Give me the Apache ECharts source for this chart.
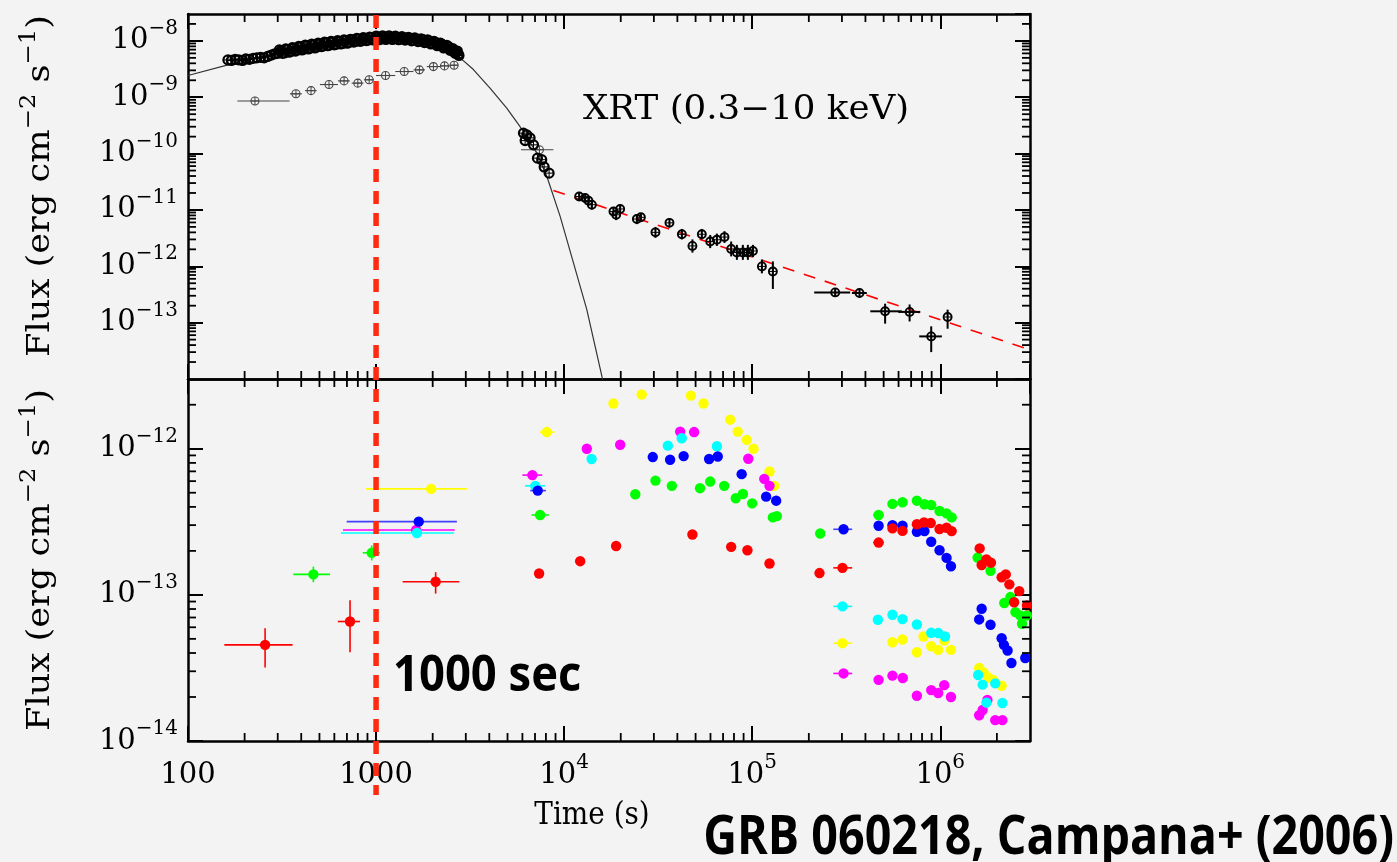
<!DOCTYPE html>
<html>
<head>
<meta charset="utf-8">
<title>GRB 060218 light curves</title>
<script src="https://cdn.jsdelivr.net/npm/echarts@6/dist/echarts.min.js"></script>
<style>
  html, body { margin: 0; padding: 0; background: #f3f3f3; }
  #chart { width: 1397px; height: 862px; }
</style>
</head>
<body>
<div id="chart"></div>
<script>
// ---- axis ranges -------------------------------------------------------
const T_MIN = 100, T_MAX = 3e6;
const TOP_F_MIN = 1e-14, TOP_F_MAX = 3e-8;
const BOT_F_MIN = 1e-14, BOT_F_MAX = 3e-12;
const markTime = 1000;

// ---- XRT 0.3-10 keV: early dense window-timing points [t, flux] --------
const xrtEarly = [
  [163,4.6e-9],[170,4.5e-9],[178,4.7e-9],[186,4.6e-9],[195,4.5e-9],[203,4.8e-9],[212,4.7e-9],
  [222,4.9e-9],[232,5.0e-9],[243,5.1e-9],[254,5.0e-9],[265,5.3e-9],[277,5.6e-9],[289,5.9e-9],
  [300,6.0e-9],[312,6.6e-9],[325,6.1e-9],[338,7.0e-9],[352,6.5e-9],[366,7.4e-9],[381,6.9e-9],
  [396,7.8e-9],[412,7.2e-9],[429,8.2e-9],[446,7.5e-9],[464,8.5e-9],[483,7.8e-9],[502,8.8e-9],
  [522,8.1e-9],[543,9.2e-9],[565,8.4e-9],[588,9.5e-9],[612,8.7e-9],[636,9.8e-9],[662,9.0e-9],
  [689,1.01e-8],[716,9.3e-9],[745,1.04e-8],[775,9.7e-9],[806,1.08e-8],[839,1.0e-8],[872,1.11e-8],
  [907,1.04e-8],[944,1.14e-8],[982,1.07e-8],[1021,1.17e-8],[1062,1.09e-8],[1105,1.17e-8],
  [1149,1.1e-8],[1195,1.17e-8],[1243,1.09e-8],[1293,1.16e-8],[1345,1.08e-8],[1399,1.14e-8],
  [1455,1.06e-8],[1514,1.12e-8],[1575,1.03e-8],[1638,1.09e-8],[1703,1.0e-8],[1772,1.05e-8],
  [1843,9.6e-9],[1917,1.0e-8],[1994,9.1e-9],[2074,9.4e-9],[2157,8.5e-9],[2244,8.7e-9],
  [2334,7.8e-9],[2428,7.9e-9],[2525,7.0e-9],[2600,6.8e-9],[2670,6.2e-9],[2740,5.8e-9],
  [306,6.9e-9],[318,6.0e-9],[331,7.2e-9],[345,6.3e-9],[359,7.6e-9],[373,6.6e-9],[388,8.0e-9],
  [404,6.9e-9],[420,8.4e-9],[437,7.2e-9],[455,8.8e-9],[473,7.5e-9],[492,9.1e-9],[512,7.9e-9],
  [532,9.5e-9],[554,8.2e-9],[576,9.8e-9],[600,8.5e-9],[624,1.01e-8],[649,8.8e-9],[675,1.04e-8],
  [702,9.1e-9],[730,1.07e-8],[760,9.5e-9],[790,1.11e-8],[822,9.8e-9],[855,1.14e-8],[890,1.01e-8],
  [925,1.17e-8],[963,1.04e-8],[1001,1.22e-8],[1041,1.05e-8],[1083,1.23e-8],[1127,1.06e-8],
  [1172,1.23e-8],[1219,1.06e-8],[1268,1.21e-8],[1319,1.05e-8],[1372,1.19e-8],[1427,1.03e-8],
  [1484,1.16e-8],[1544,1.0e-8],[1606,1.13e-8],[1670,9.7e-9],[1737,1.09e-8],[1807,9.3e-9],
  [1880,1.04e-8],[1955,8.8e-9],[2034,9.8e-9],[2115,8.2e-9],[2200,9.1e-9],[2289,7.5e-9],
  [2381,8.3e-9],[2476,6.8e-9],[2560,7.3e-9],[2635,6.0e-9],[2705,6.6e-9],[2760,5.5e-9],
  [6075,2.31e-10],[6333,2.15e-10],[6590,1.9e-10],[6203,1.7e-10],[6874,1.43e-10],
  [7210,8.3e-11],[7600,7.8e-11],[7830,5.8e-11],[8320,4.5e-11]
];

// ---- lower-flux binned points [t, flux, tLo, tHi, fLo, fHi] -------------
const xrtBinned = [
  [227,8.6e-10,183,347],[375,1.15e-9,348,403],[451,1.31e-9,419,483],[562,1.68e-9,503,627],
  [676,1.95e-9,627,725],[800,1.78e-9,742,857],[919,2.04e-9,862,975],[1123,2.43e-9,1000,1265],
  [1412,2.86e-9,1265,1580],[1700,3.06e-9,1580,1820],[2018,3.5e-9,1860,2190],
  [2311,3.6e-9,2190,2470],[2600,3.7e-9,2470,2730],[7390,1.17e-10,5900,8770,1.0e-10,1.35e-10]
];

// ---- late photon-counting points [t, flux, tLo, tHi, fLo, fHi] ----------
const xrtLate = [
  [12020,1.73e-11,0,0,1.45e-11,2.05e-11],[12930,1.63e-11,0,0,1.37e-11,1.94e-11],
  [13470,1.46e-11,0,0,1.22e-11,1.74e-11],[14040,1.24e-11,0,0,1.02e-11,1.5e-11],
  [18290,9.4e-12,0,0,7.8e-12,1.13e-11],[18910,8.2e-12,0,0,6.6e-12,1.0e-11],
  [19860,1.04e-11,0,0,8.8e-12,1.22e-11],[24360,6.9e-12,0,0,5.6e-12,8.4e-12],
  [25590,7.4e-12,0,0,6.2e-12,8.8e-12],[30590,4.0e-12,0,0,3.2e-12,5.0e-12],
  [36310,5.9e-12,0,0,4.9e-12,7.1e-12],[42270,3.7e-12,0,0,3.0e-12,4.6e-12],
  [48100,2.3e-12,0,0,1.75e-12,3.0e-12],[53960,3.7e-12,0,0,3.0e-12,4.6e-12],
  [59800,2.76e-12,0,0,2.1e-12,3.6e-12],[64900,2.96e-12,0,0,2.3e-12,3.8e-12],
  [71230,3.3e-12,0,0,2.6e-12,4.2e-12],[77300,2.03e-12,0,0,1.5e-12,2.75e-12],
  [82900,1.76e-12,0,0,1.3e-12,2.4e-12],[89200,1.76e-12,0,0,1.3e-12,2.4e-12],
  [94850,1.76e-12,0,0,1.3e-12,2.4e-12],[100900,1.87e-12,0,0,1.45e-12,2.4e-12],
  [112600,9.95e-13,0,0,7.5e-13,1.32e-12],[128800,8.1e-13,0,0,3.96e-13,1.22e-12],
  [276300,3.44e-13,213600,331700,2.9e-13,4.1e-13],[372000,3.36e-13,339000,407000,2.8e-13,4.0e-13],
  [509000,1.59e-13,424600,625000,9.6e-14,2.17e-13],[687000,1.55e-13,598000,783000,1.05e-13,2.1e-13],
  [895000,5.7e-14,773000,1020000,3.0e-14,8.6e-14],[1094000,1.26e-13,0,0,7.8e-14,1.7e-13]
];

// ---- model curve and late power law -------------------------------------
const modelTime = [100,163,300,600,1000,1500,2000,2800,3293,4035,4952,5830,7160,8095,9525,11210,13200,15870,16400];
const modelFlux = [2.43e-9,3.75e-9,6.0e-9,9.0e-9,1.1e-8,1.08e-8,9.3e-9,5.0e-9,3.1e-9,1.45e-9,6.4e-10,3.0e-10,1.02e-10,3.93e-11,7.67e-12,1.15e-12,1.7e-13,1.12e-14,7e-15];
const powerLawTime = [8770, 3e6];
const powerLawFlux = [2.22e-11, 3.3e-14];

// ---- UVOT filters (lower panel) [t, flux, tLo, tHi, fLo, fHi] -----------
const uvRed = [
  [257,4.55e-14,156,360,3.19e-14,5.9e-14],[727,6.57e-14,626,821,4.05e-14,9.2e-14],
  [2074,1.23e-13,1384,2770,1.02e-13,1.43e-13],[7360,1.40e-13],[12170,1.70e-13],[18900,2.16e-13],
  [48100,2.59e-13],[77300,2.13e-13],[94300,2.02e-13],[123600,1.64e-13],[228000,1.41e-13],
  [302000,1.53e-13,270000,340000],[470000,2.28e-13,440000,500000],[557000,2.85e-13],[630000,2.74e-13],
  [751000,3.04e-13],[820000,3.13e-13],[890000,3.1e-13],[991000,2.82e-13],[1080000,2.88e-13],
  [1150000,2.73e-13],[1620000,2.08e-13],[1660000,1.60e-13],[1760000,1.75e-13],[1860000,1.66e-13],
  [2120000,1.32e-13],[2230000,1.38e-13],[2330000,1.18e-13],[2470000,8.9e-14],[2630000,1.06e-13],
  [2890000,8.47e-14]
];
const uvGreen = [
  [464,1.38e-13,363,569,1.22e-13,1.56e-13],[948,1.94e-13,850,1050,1.72e-13,2.18e-13],
  [7450,3.52e-13,6700,8300],[23900,4.88e-13],[30600,6.05e-13],[37400,5.57e-13],[52800,5.37e-13],
  [59800,5.96e-13],[71000,5.57e-13],[81800,4.58e-13],[89200,4.9e-13],[100000,4.23e-13],
  [128800,3.39e-13],[135200,3.46e-13],[230000,2.63e-13],[470000,3.52e-13,440000,500000],
  [557000,4.19e-13],[630000,4.3e-13],[751000,4.41e-13],[824000,4.17e-13],[895000,4.12e-13],
  [991000,3.75e-13],[1080000,3.61e-13],[1150000,3.39e-13],[1580000,1.80e-13],[1850000,1.46e-13],
  [2190000,8.8e-14],[2360000,9.66e-14],[2510000,7.62e-14],[2660000,7.23e-14],[2720000,6.34e-14],
  [2890000,7.23e-14]
];
const uvBlue = [
  [1686,3.17e-13,698,2690],[7240,5.17e-13,6600,8000],[29600,8.77e-13],[36600,8.40e-13],
  [43200,8.9e-13],[59000,8.5e-13],[65600,8.85e-13],[87900,6.7e-13],[118600,4.7e-13],[134100,4.41e-13],
  [306000,2.81e-13,270000,340000],[470000,2.97e-13],[557000,3.0e-13],[630000,2.97e-13],
  [751000,2.70e-13],[824000,2.73e-13],[895000,2.31e-13],[991000,2.02e-13],[1080000,1.79e-13],
  [1140000,1.57e-13],[1610000,6.79e-14],[1660000,8.04e-14],[1850000,6.24e-14],[2120000,5.05e-14],
  [2180000,4.55e-14],[2280000,4.16e-14],[2390000,3.42e-14],[2830000,3.70e-14]
];
const uvCyan = [
  [1650,2.65e-13,650,2600],[7020,5.57e-13,6200,7900],[14000,8.5e-13],[35600,1.05e-12],
  [42200,1.18e-12],[64900,1.04e-12],[302000,8.34e-14,270000,340000],[466000,6.76e-14],
  [557000,7.31e-14],[630000,6.82e-14],[751000,6.27e-14],[895000,5.5e-14],[975000,5.48e-14],
  [1060000,5.19e-14],[1590000,2.83e-14],[1680000,2.43e-14],[1760000,1.83e-14],[1960000,2.48e-14],
  [2140000,1.82e-14]
];
const uvYellow = [
  [1963,5.31e-13,885,3040],[8090,1.30e-12,7400,8900],[18280,2.04e-12],[25860,2.35e-12],
  [47200,2.31e-12],[55100,2.04e-12],[76400,1.58e-12],[83800,1.31e-12],[93500,1.15e-12],
  [101600,1.0e-12],[123600,6.98e-13],[131000,5.57e-13],[302000,4.67e-14,270000,340000],
  [557000,4.74e-14],[630000,4.95e-14],[751000,4.05e-14],[815000,5.19e-14],[895000,4.45e-14],
  [975000,4.2e-14],[1050000,4.87e-14],[1140000,4.2e-14],[1610000,3.16e-14],[1700000,2.95e-14],
  [1800000,2.72e-14],[1920000,2.61e-14],[2120000,2.39e-14]
];
const uvMagenta = [
  [1633,2.78e-13,667,2620],[6780,6.6e-13,6000,7650],[13200,1.0e-12],[19860,1.065e-12],
  [41400,1.31e-12],[49100,1.30e-12],[95300,8.54e-13],[115900,6.22e-13],[123600,5.57e-13],
  [306000,2.9e-14,270000,340000],[470000,2.62e-14],[557000,2.8e-14],[632000,2.7e-14],
  [751000,2.04e-14],[895000,2.23e-14],[975000,2.13e-14],[1050000,2.41e-14],[1140000,2.0e-14],
  [1610000,1.5e-14],[1680000,1.63e-14],[1780000,1.91e-14],[1960000,1.39e-14],[2140000,1.39e-14]
];

// ---- minor tick values (2..9 within each decade) -----------------------
function minorValues(lo, hi) {
  const out = [];
  for (let e = Math.floor(Math.log10(lo)); e <= Math.ceil(Math.log10(hi)); e++) {
    for (let k = 2; k <= 9; k++) {
      const v = k * Math.pow(10, e);
      if (v > lo * 1.0001 && v < hi * 0.9999) out.push(v);
    }
  }
  return out;
}
const minorT = minorValues(T_MIN, T_MAX);
const minorTopF = minorValues(TOP_F_MIN, TOP_F_MAX);
const minorBotF = minorValues(BOT_F_MIN, BOT_F_MAX);

// ---- styling ------------------------------------------------------------
const SERIF = 'DejaVu Serif';
const BOLD_SANS = "'Open Sans', sans-serif";
const TOP_H = 365, BOT_H = 362, LEFT = 188, PLOT_W = 842;

const richLabel = {
  b: { fontFamily: SERIF, fontSize: 29, lineHeight: 44, color: '#000' },
  s: { fontFamily: SERIF, fontSize: 20, lineHeight: 16, color: '#000', verticalAlign: 'top' }
};
function powLabel(v) {
  const e = Math.round(Math.log10(v));
  return '{b|10}{s|' + (e < 0 ? '\u2212' + (-e) : String(e)) + '}';
}
function timeLabel(v) {
  const e = Math.round(Math.log10(v));
  if (e === 2) return '{b|100}';
  if (e === 3) return '{b|1000}';
  return powLabel(v);
}

const frameLine = { show: true, onZero: false, lineStyle: { color: '#000', width: 2.5 } };
const majorTick = { show: true, inside: true, length: 15, lineStyle: { color: '#000', width: 2 } };

function timeAxis(gridIndex, position, withLabels) {
  return {
    type: 'log', logBase: 10, gridIndex, position, min: T_MIN, max: T_MAX,
    axisLine: frameLine, axisTick: majorTick, splitLine: { show: false }, minorTick: { show: false },
    axisLabel: withLabels ? {
      show: true, margin: 12, formatter: timeLabel, rich: richLabel,
      showMinLabel: true, showMaxLabel: false
    } : { show: false }
  };
}
function fluxAxis(gridIndex, position, min, max, withLabels, hideMin) {
  return {
    type: 'log', logBase: 10, gridIndex, position, min, max,
    axisLine: frameLine, axisTick: majorTick, splitLine: { show: false }, minorTick: { show: false },
    axisLabel: withLabels ? {
      show: true, margin: 10, formatter: powLabel, rich: richLabel,
      showMinLabel: !hideMin, showMaxLabel: false
    } : { show: false }
  };
}

// minor ticks on all four edges of a panel
function minorTickSeries(xAxisIndex, yAxisIndex, yVals, yRef) {
  return {
    type: 'custom', coordinateSystem: 'cartesian2d', xAxisIndex, yAxisIndex, silent: true, z: 5,
    data: [[T_MIN, yRef]],
    renderItem: function (params, api) {
      const cs = params.coordSys;
      const st = { stroke: '#000', lineWidth: 1.8 };
      const L = 8, kids = [];
      minorT.forEach(function (v) {
        const x = api.coord([v, yRef])[0];
        kids.push({ type: 'line', shape: { x1: x, y1: cs.y, x2: x, y2: cs.y + L }, style: st });
        kids.push({ type: 'line', shape: { x1: x, y1: cs.y + cs.height, x2: x, y2: cs.y + cs.height - L }, style: st });
      });
      yVals.forEach(function (v) {
        const y = api.coord([T_MIN, v])[1];
        kids.push({ type: 'line', shape: { x1: cs.x, y1: y, x2: cs.x + L, y2: y }, style: st });
        kids.push({ type: 'line', shape: { x1: cs.x + cs.width, y1: y, x2: cs.x + cs.width - L, y2: y }, style: st });
      });
      return { type: 'group', children: kids };
    }
  };
}

// data points with error bars; either open circle with a cross or a filled dot
function pointSeries(data, xAxisIndex, yAxisIndex, opt) {
  return {
    type: 'custom', coordinateSystem: 'cartesian2d', xAxisIndex, yAxisIndex, z: opt.z || 3,
    data: data, encode: { x: 0, y: 1 },
    renderItem: function (params, api) {
      const t = api.value(0), f = api.value(1);
      const p = api.coord([t, f]);
      const kids = [];
      const es = { stroke: opt.errColor, lineWidth: opt.errWidth };
      const tLo = api.value(2), tHi = api.value(3), fLo = api.value(4), fHi = api.value(5);
      if (tLo > 0 && tHi > 0) {
        const a = api.coord([tLo, f]), b = api.coord([tHi, f]);
        kids.push({ type: 'line', shape: { x1: a[0], y1: a[1], x2: b[0], y2: b[1] }, style: es });
      }
      if (fLo > 0 && fHi > 0) {
        const a = api.coord([t, fLo]), b = api.coord([t, fHi]);
        kids.push({ type: 'line', shape: { x1: a[0], y1: a[1], x2: b[0], y2: b[1] }, style: es });
      }
      const r = opt.r;
      if (opt.fill) {
        kids.push({ type: 'circle', shape: { cx: p[0], cy: p[1], r: r }, style: { fill: opt.fill } });
      } else {
        const cs = { stroke: opt.stroke, lineWidth: opt.crossWidth };
        kids.push({ type: 'circle', shape: { cx: p[0], cy: p[1], r: r }, style: { fill: 'none', stroke: opt.stroke, lineWidth: opt.lineWidth } });
        kids.push({ type: 'line', shape: { x1: p[0] - r, y1: p[1], x2: p[0] + r, y2: p[1] }, style: cs });
        kids.push({ type: 'line', shape: { x1: p[0], y1: p[1] - r, x2: p[0], y2: p[1] + r }, style: cs });
      }
      return { type: 'group', children: kids };
    }
  };
}

const chart = echarts.init(document.getElementById('chart'), null, { renderer: 'canvas' });

const yTitle = '{a|Flux (erg cm}{s|\u22122}{a| s}{s|\u22121}{a|)}';
const yTitleRich = {
  a: { fontFamily: SERIF, fontSize: 32, lineHeight: 46, color: '#000' },
  s: { fontFamily: SERIF, fontSize: 22, lineHeight: 18, color: '#000', verticalAlign: 'top' }
};

chart.setOption({
  backgroundColor: '#f3f3f3',
  animation: false,
  grid: [
    { left: LEFT, top: 14, width: PLOT_W, height: TOP_H, outerBoundsMode: 'none' },
    { left: LEFT, top: 14 + TOP_H, width: PLOT_W, height: BOT_H, outerBoundsMode: 'none' }
  ],
  xAxis: [
    timeAxis(0, 'bottom', false),
    timeAxis(0, 'top', false),
    timeAxis(1, 'bottom', true),
    timeAxis(1, 'top', false)
  ],
  yAxis: [
    fluxAxis(0, 'left', TOP_F_MIN, TOP_F_MAX, true, true),
    fluxAxis(0, 'right', TOP_F_MIN, TOP_F_MAX, false, true),
    fluxAxis(1, 'left', BOT_F_MIN, BOT_F_MAX, true, false),
    fluxAxis(1, 'right', BOT_F_MIN, BOT_F_MAX, false, false)
  ],
  graphic: [
    { type: 'text', x: 41, y: 186, rotation: Math.PI / 2, scaleX: 1.1, silent: true,
      style: { text: yTitle, rich: yTitleRich, align: 'center', verticalAlign: 'middle' } },
    { type: 'text', x: 41, y: 560, rotation: Math.PI / 2, scaleX: 1.1, silent: true,
      style: { text: yTitle, rich: yTitleRich, align: 'center', verticalAlign: 'middle' } },
    { type: 'text', x: 592, y: 816, scaleX: 0.9, silent: true,
      style: { text: 'Time (s)', fontFamily: SERIF, fontSize: 31, fill: '#000', align: 'center', verticalAlign: 'middle' } },
    { type: 'text', x: 583, y: 110, scaleX: 1.08, silent: true,
      style: { text: 'XRT (0.3\u221210 keV)', fontFamily: SERIF, fontSize: 33, fill: '#000', align: 'left', verticalAlign: 'middle' } },
    { type: 'text', x: 393, y: 676, scaleX: 0.89, silent: true, z: 20,
      style: { text: '1000 sec', fontFamily: BOLD_SANS, fontWeight: 'bold', fontSize: 51, fill: '#000', align: 'left', verticalAlign: 'middle' } },
    { type: 'text', x: 1394, y: 839, scaleX: 0.88, silent: true, z: 20,
      style: { text: 'GRB 060218, Campana+ (2006)', fontFamily: BOLD_SANS, fontWeight: 'bold', fontSize: 53, fill: '#000', align: 'right', verticalAlign: 'middle' } }
  ],
  series: [
    minorTickSeries(0, 0, minorTopF, 1e-10),
    minorTickSeries(2, 2, minorBotF, 1e-13),
    {
      type: 'line', xAxisIndex: 0, yAxisIndex: 0, showSymbol: false, smooth: false,
      data: modelTime.map(function (t, i) { return [t, modelFlux[i]]; }),
      lineStyle: { color: '#333', width: 1.2 }, z: 2, silent: true
    },
    {
      type: 'line', xAxisIndex: 0, yAxisIndex: 0, showSymbol: false,
      data: powerLawTime.map(function (t, i) { return [t, powerLawFlux[i]]; }),
      lineStyle: { color: '#ff0000', width: 1.6, type: [12, 10] }, z: 2, silent: true
    },
    pointSeries(xrtBinned, 0, 0, { r: 4, stroke: '#444', lineWidth: 1.1, crossWidth: 1, errColor: '#444', errWidth: 1.1 }),
    pointSeries(xrtEarly, 0, 0, { r: 4.5, stroke: '#000', lineWidth: 2.2, crossWidth: 1, errColor: '#000', errWidth: 1.5 }),
    pointSeries(xrtLate, 0, 0, { r: 4, stroke: '#000', lineWidth: 1.9, crossWidth: 1, errColor: '#000', errWidth: 2 }),
    pointSeries(uvYellow, 2, 2, { r: 5.2, fill: '#ffff00', errColor: '#ffff00', errWidth: 1.6 }),
    pointSeries(uvMagenta, 2, 2, { r: 5.2, fill: '#ff00ff', errColor: '#ff00ff', errWidth: 1.6 }),
    pointSeries(uvCyan, 2, 2, { r: 5.2, fill: '#00ffff', errColor: '#00ffff', errWidth: 1.6 }),
    pointSeries(uvBlue, 2, 2, { r: 5.2, fill: '#0000ff', errColor: '#4040ff', errWidth: 1.6 }),
    pointSeries(uvGreen, 2, 2, { r: 5.2, fill: '#00ff00', errColor: '#00ff00', errWidth: 1.6 }),
    pointSeries(uvRed, 2, 2, { r: 5.2, fill: '#ff0000', errColor: '#ff0000', errWidth: 1.6 }),
    {
      type: 'custom', coordinateSystem: 'cartesian2d', xAxisIndex: 2, yAxisIndex: 2, clip: false, z: 15, silent: true,
      data: [[markTime, 1e-13]],
      renderItem: function (params, api) {
        const cs = params.coordSys;
        const x = api.coord([api.value(0), api.value(1)])[0];
        return { type: 'line', shape: { x1: x, y1: cs.y - TOP_H + 1, x2: x, y2: cs.y + cs.height + 54 },
                 style: { stroke: '#ff2a10', lineWidth: 5.5, lineDash: [13, 9] } };
      }
    }
  ]
});
</script>
</body>
</html>
